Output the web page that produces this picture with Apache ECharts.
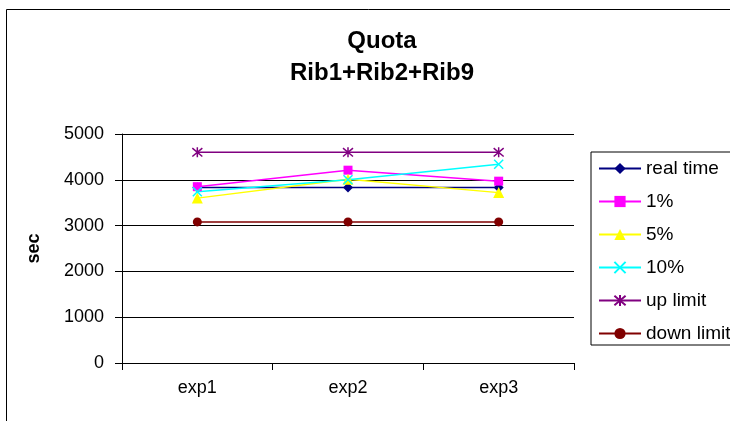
<!DOCTYPE html>
<html>
<head>
<meta charset="utf-8">
<script src="https://cdn.jsdelivr.net/npm/echarts@6/dist/echarts.min.js"></script>
<style>
  html, body { margin: 0; padding: 0; background: #fff; }
  #chart { width: 730px; height: 421px; }
</style>
</head>
<body>
<div id="chart"></div>
<script>
// categories and values
var categories = ['exp1', 'exp2', 'exp3'];
var realTime = [3830, 3830, 3830];
var pct1 = [3850, 4210, 3970];
var pct5 = [3600, 4010, 3720];
var pct10 = [3740, 4000, 4340];
var upLimit = [4600, 4600, 4600];
var downLimit = [3080, 3080, 3080];
var yTicks = { min: 0, max: 5000, step: 1000 };

var FONT = 'Liberation Sans, Arial, sans-serif';

// X and asterisk drawn as stroked paths
var xPath = 'path://M0,0L10,10M10,0L0,10';
var starPath = 'path://M0,0L10,10M10,0L0,10M5,-1L5,11';

function mk(name, data, color, symbol, size, stroked) {
	var s = {
		name: name,
		type: 'line',
		data: data,
		symbol: symbol,
		symbolSize: size,
		showAllSymbol: true,
		lineStyle: { color: color, width: 1.5 },
		itemStyle: { color: color },
		emphasis: { disabled: true },
		z: 3
	};
	if (stroked) {
		s.itemStyle = { color: 'none', borderColor: color, borderWidth: 1.5 };
	}
	return s;
}

var chart = echarts.init(document.getElementById('chart'));
var option = {
	backgroundColor: '#fff',
	animation: false,
	title: {
		text: 'Quota\nRib1+Rib2+Rib9',
		left: 377,
		textAlign: 'center',
		top: 20,
		textStyle: { fontFamily: FONT, fontSize: 24, fontWeight: 'bold', color: '#000', lineHeight: 32 }
	},
	graphic: [{
		type: 'rect',
		shape: { x: 6.5, y: 9.5, width: 760, height: 440 },
		style: { fill: 'none', stroke: '#000', lineWidth: 1 },
		silent: true
	}],
	legend: {
		orient: 'vertical',
		left: 591,
		top: 152,
		width: 180,
		padding: [7, 80, 2, 7],
		itemWidth: 42,
		itemHeight: 14,
		itemGap: 14,
		borderColor: '#000',
		borderWidth: 1,
		textStyle: { fontFamily: FONT, fontSize: 19, lineHeight: 18, color: '#000' },
		data: ['real time', '1%', '5%', '10%', 'up limit', 'down limit']
	},
	grid: { left: 122, right: 156, top: 134, bottom: 58, containLabel: false },
	xAxis: {
		type: 'category',
		data: categories,
		boundaryGap: true,
		axisLine: { lineStyle: { color: '#000', width: 1 } },
		axisTick: { show: true, length: 7, lineStyle: { color: '#000' } },
		axisLabel: { fontFamily: FONT, fontSize: 18, color: '#000', margin: 16 }
	},
	yAxis: {
		type: 'value',
		min: yTicks.min,
		max: yTicks.max,
		interval: yTicks.step,
		name: 'sec',
		nameLocation: 'middle',
		nameGap: 79,
		nameRotate: 90,
		nameTextStyle: { fontFamily: FONT, fontSize: 18, fontWeight: 'bold', color: '#000' },
		axisLine: { show: true, lineStyle: { color: '#000', width: 1 } },
		axisTick: { show: true, length: 7, lineStyle: { color: '#000' } },
		axisLabel: { fontFamily: FONT, fontSize: 18, color: '#000', margin: 18, formatter: function (v) { return String(v); } },
		splitLine: { lineStyle: { color: '#000', width: 1 } }
	},
	series: [
		mk('real time', realTime, '#000080', 'diamond', 10, false),
		mk('1%', pct1, '#FF00FF', 'rect', 9, false),
		mk('5%', pct5, '#FFFF00', 'triangle', 11, false),
		mk('10%', pct10, '#00FFFF', xPath, 9, true),
		mk('up limit', upLimit, '#800080', starPath, 10, true),
		mk('down limit', downLimit, '#800000', 'circle', 9, false)
	]
};
chart.setOption(option);
</script>
</body>
</html>
